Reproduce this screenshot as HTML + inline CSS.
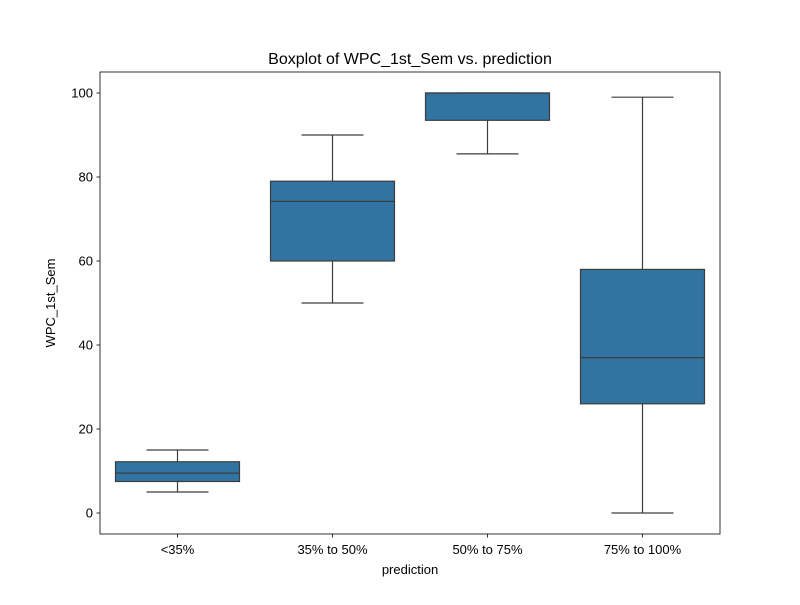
<!DOCTYPE html>
<html><head><meta charset="utf-8"><style>
body{margin:0;background:#fff;}
svg text{font-family:"Liberation Sans","DejaVu Sans",sans-serif;fill:#000;}
</style></head><body>
<svg id="chart" width="800" height="600" xmlns="http://www.w3.org/2000/svg">
<rect width="800" height="600" fill="#fff"/>
<text x="410" y="64" font-size="16" text-anchor="middle">Boxplot of WPC_1st_Sem vs. prediction</text>
<g id="plot"></g>
<rect x="100" y="72" width="620" height="462" fill="none" stroke="#000" stroke-width="0.8"/>
<text x="410" y="574" font-size="13" text-anchor="middle">prediction</text>
<text x="0" y="0" font-size="13" text-anchor="middle" transform="translate(55,303) rotate(-90)">WPC_1st_Sem</text>
</svg>
<script>
const categories = ["<35%", "35% to 50%", "50% to 75%", "75% to 100%"];
const whiskerLow = [5, 50, 85.5, 0];
const q1 = [7.5, 60, 93.5, 26];
const median = [9.5, 74.2, 100, 37];
const q3 = [12.2, 79, 100, 58];
const whiskerHigh = [15, 90, 100, 99];
const yTicks = [0, 20, 40, 60, 80, 100];

const NS = "http://www.w3.org/2000/svg";
const g = document.getElementById("plot");
const x0 = 100, w = 620;
const y = v => 513 - v * 4.2;
const band = w / categories.length;
const xc = i => x0 + band * (i + 0.5);
function mk(tag, attrs) { const e = document.createElementNS(NS, tag); for (const k in attrs) e.setAttribute(k, attrs[k]); g.appendChild(e); return e; }

yTicks.forEach(t => {
  const l = mk("line", {x1: 96.5, x2: 100, y1: y(t), y2: y(t), stroke: "#000", "stroke-width": 0.8});
  
  
  const tx = mk("text", {x: 93, y: y(t) + 4.5, "font-size": 13, "text-anchor": "end"});
  tx.textContent = t;
  
  
});

categories.forEach((c, i) => {
  const cx = xc(i), bw = band * 0.8, cw = bw / 2;
  const t = mk("line", {x1: cx, x2: cx, y1: 534, y2: 537.5, stroke: "#000", "stroke-width": 0.8});
  
  
  const tx = mk("text", {x: cx, y: 554, "font-size": 13, "text-anchor": "middle"});
  tx.textContent = c;
  
  
  const s = {stroke: "#3d3d3d", "stroke-width": 1.2};
  const w1 = mk("line", Object.assign({x1: cx, x2: cx, y1: y(whiskerLow[i]), y2: y(q1[i])}, s));
  
  
  const w2 = mk("line", Object.assign({x1: cx, x2: cx, y1: y(q3[i]), y2: y(whiskerHigh[i])}, s));
  
  
  const c1 = mk("line", Object.assign({x1: cx - cw / 2, x2: cx + cw / 2, y1: y(whiskerLow[i]), y2: y(whiskerLow[i])}, s));
  
  
  const c2 = mk("line", Object.assign({x1: cx - cw / 2, x2: cx + cw / 2, y1: y(whiskerHigh[i]), y2: y(whiskerHigh[i])}, s));
  
  
  const b = mk("rect", Object.assign({x: cx - bw / 2, y: y(q3[i]), width: bw, height: Math.max(0, y(q1[i]) - y(q3[i])), fill: "#3274a1"}, s));
  
  
  const m = mk("line", Object.assign({x1: cx - bw / 2, x2: cx + bw / 2, y1: y(median[i]), y2: y(median[i])}, s));
  
  
});
</script>
</body></html>
